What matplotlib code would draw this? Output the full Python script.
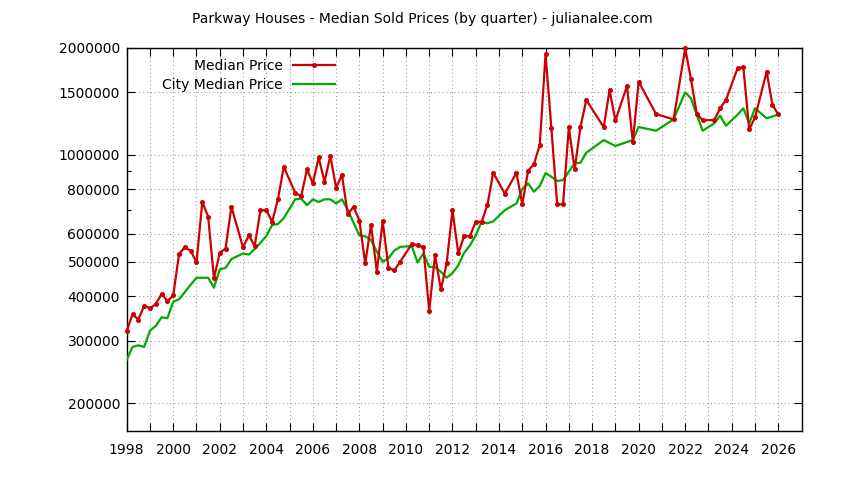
import matplotlib
matplotlib.use('Agg')
import matplotlib.pyplot as plt
from matplotlib.ticker import FixedLocator, NullFormatter, FuncFormatter

title = "Parkway Houses - Median Sold Prices (by quarter) - julianalee.com"

quarter_x = [
    1998.0, 1998.25, 1998.5, 1998.75,
    1999.0, 1999.25, 1999.5, 1999.75,
    2000.0, 2000.25, 2000.5, 2000.75,
    2001.0, 2001.25, 2001.5, 2001.75,
    2002.0, 2002.25, 2002.5,
    2003.0, 2003.25, 2003.5, 2003.75,
    2004.0, 2004.25, 2004.5, 2004.75,
    2005.25, 2005.5, 2005.75,
    2006.0, 2006.25, 2006.5, 2006.75,
    2007.0, 2007.25, 2007.5, 2007.75,
    2008.0, 2008.25, 2008.5, 2008.75,
    2009.0, 2009.25, 2009.5, 2009.75,
    2010.25, 2010.5, 2010.75,
    2011.0, 2011.25, 2011.5, 2011.75,
    2012.0, 2012.25, 2012.5, 2012.75,
    2013.0, 2013.25, 2013.5, 2013.75,
    2014.25, 2014.75,
    2015.0, 2015.25, 2015.5, 2015.75,
    2016.0, 2016.25, 2016.5, 2016.75,
    2017.0, 2017.25, 2017.5, 2017.75,
    2018.5, 2018.75,
    2019.0, 2019.5, 2019.75,
    2020.0, 2020.75,
    2021.5,
    2022.0, 2022.25, 2022.5, 2022.75,
    2023.25, 2023.5, 2023.75,
    2024.25, 2024.5, 2024.75,
    2025.0, 2025.5, 2025.75,
    2026.0,
]

median_price = [
    319000, 356000, 344000, 376000,
    370000, 380000, 406000, 388000,
    402000, 526000, 550000, 537000,
    498000, 737000, 670000, 449000,
    530000, 545000, 715000,
    549000, 594000, 554000, 699000,
    699000, 648000, 750000, 926000,
    780000, 766000, 911000,
    831000, 984000, 840000, 993000,
    808000, 879000, 681000, 715000,
    653000, 495000, 635000, 469000,
    651000, 481000, 473000, 500000,
    561000, 557000, 549000,
    364000, 522000, 418000, 495000,
    699000, 528000, 591000, 591000,
    648000, 648000, 722000, 891000,
    778000, 891000,
    726000, 903000, 942000, 1066000,
    1924000, 1188000, 726000, 726000,
    1196000, 911000, 1198000, 1428000,
    1196000, 1523000,
    1250000, 1564000, 1085000,
    1608000, 1303000,
    1259000,
    1995000, 1632000, 1303000, 1253000,
    1253000, 1353000, 1428000,
    1753000, 1764000, 1180000,
    1275000, 1715000, 1382000,
    1300000,
]

city_median_price = [
    265000, 288000, 291000, 288000,
    320000, 330000, 349000, 347000,
    386000, 392000, 411000, 431000,
    451000, 451000, 451000, 423000,
    476000, 481000, 509000,
    528000, 524000, 543000, 566000,
    591000, 635000, 639000, 664000,
    751000, 753000, 722000,
    750000, 737000, 750000, 750000,
    730000, 750000, 699000, 644000,
    594000, 590000, 576000, 534000,
    500000, 512000, 538000, 551000,
    554000, 498000, 528000,
    484000, 483000, 469000, 451000,
    465000, 489000, 530000, 556000,
    594000, 648000, 642000, 650000,
    699000, 730000,
    802000, 831000, 788000, 817000,
    889000, 868000, 844000, 850000,
    897000, 946000, 951000, 1014000,
    1101000, 1080000,
    1060000, 1087000, 1101000,
    1198000, 1170000,
    1259000,
    1500000, 1443000, 1295000, 1170000,
    1227000, 1290000, 1208000,
    1298000, 1353000, 1227000,
    1353000, 1268000, 1283000,
    1300000,
]

y_tick_values = [200000, 300000, 400000, 500000, 600000, 800000,
                 1000000, 1500000, 2000000]
y_minor_values = [700000, 900000]
x_tick_years = list(range(1998, 2027))

fig = plt.figure(figsize=(8.44, 4.80), dpi=100)
ax = fig.add_axes([0.1501, 0.1021, 0.7996, 0.7979])
ax.set_yscale('log')
ax.set_xlim(1998, 2027)
ax.set_ylim(167000, 2000000)

red = '#cc0000'
green = '#00aa00'
ax.plot(quarter_x, median_price, color=red, lw=1.6, marker='o', ms=2.6,
        label='Median Price', clip_on=False, zorder=4)
ax.plot(quarter_x, city_median_price, color=green, lw=1.6,
        label='City Median Price', zorder=3)

ax.yaxis.set_major_locator(FixedLocator(y_tick_values))
ax.yaxis.set_major_formatter(FuncFormatter(lambda v, p: f"{int(round(v))}"))
ax.yaxis.set_minor_locator(FixedLocator(y_minor_values))
ax.yaxis.set_minor_formatter(NullFormatter())

ax.xaxis.set_major_locator(FixedLocator(x_tick_years))
ax.xaxis.set_major_formatter(FuncFormatter(lambda v, p: f"{int(round(v))}" if int(round(v)) % 2 == 0 else ""))

ax.tick_params(axis='both', which='major', direction='in', length=5.8, width=0.8,
               top=True, right=True, labelsize=10, colors='black')
ax.tick_params(axis='y', which='minor', direction='in', length=2.9, width=0.8,
               right=True, left=True)
ax.tick_params(axis='y', which='major', pad=4.8)
ax.tick_params(axis='x', which='major', pad=9)

ax.grid(True, which='major', axis='both', color='#a0a0a0',
        linestyle=(0, (1, 2.5)), linewidth=0.8)
ax.set_axisbelow(True)
for s in ax.spines.values():
    s.set_linewidth(1.0)
    s.set_color('black')

leg = ax.legend(loc='upper right', bbox_to_anchor=(0.3087, 0.9713),
                markerfirst=False, frameon=False, handlelength=3.0,
                handletextpad=0.75, labelspacing=0.37, borderpad=0,
                borderaxespad=0, fontsize=10)

fig.text(0.5, 1 - 19 / 480, title, ha='center', va='center', fontsize=10)

fig.savefig('out.png', dpi=100, facecolor='white')
